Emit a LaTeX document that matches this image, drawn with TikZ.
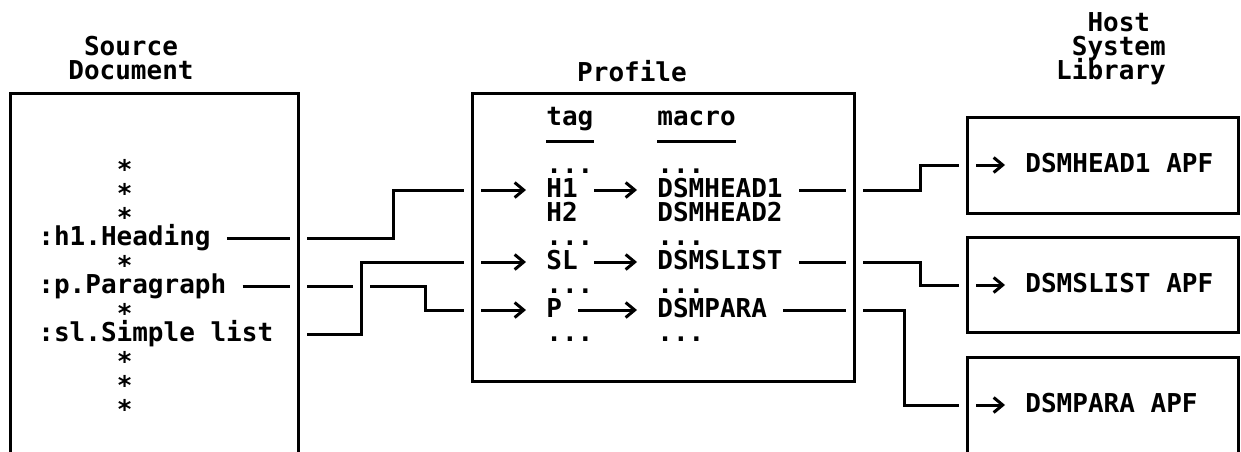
\documentclass[tikz,border=0pt]{standalone}
\usepackage{fontspec}
\setmonofont{DejaVu Sans Mono}
\usetikzlibrary{arrows.meta}
\newcommand\tightlines{\lineskiplimit -20pt\relax}

\begin{document}
\begin{tikzpicture}[x=0.5pt, y=-0.5pt, >={Straight Barb[length=4.5pt,width=7.5pt]},
  txt/.style={anchor=west, inner sep=0pt, text height=0.73em, text depth=0pt,
    font=\fontsize{13}{12}\selectfont\ttfamily\bfseries},
  ttl/.style={inner sep=0pt, font=\fontsize{13}{12}\selectfont\ttfamily\bfseries\tightlines},
  halo/.style={preaction={draw=white, line width=8.5pt}},
  wire/.style={line width=1.5pt},
  arr/.style={wire, ->, shorten >=10pt},
  boxline/.style={line width=1.5pt, halo}]
\useasboundingbox (0,0) rectangle (1241,451);

% frames (drawn at the end, over the wires)
\node[anchor=north west, inner sep=0pt, minimum width=144pt, minimum height=179pt] (src) at (10,93) {};
\node[anchor=north west, inner sep=0pt, minimum width=191pt, minimum height=144pt] (prof) at (472,93) {};
\node[anchor=north west, inner sep=0pt, minimum width=135.5pt, minimum height=48pt] (lib1) at (967,117) {};
\node[anchor=north west, inner sep=0pt, minimum width=135.5pt, minimum height=47.5pt] (lib2) at (967,237) {};
\node[anchor=north west, inner sep=0pt, minimum width=135.5pt, minimum height=47pt] (lib3) at (967,357) {};

% titles
\node[ttl, align=center] (srcttl) at (131,58) {Source\\Document};
\node[ttl] (profttl) at (632,71) {Profile};
\node[ttl, align=left] (libttl) at (1111,49) {\hphantom{Li}Host\\\hphantom{L}System\\Library};

% source document
\foreach \y in {166,190,214,262,310,358,382,406}
  \node[txt] (st\y) at (116.5,\y) {∗};
\node[txt] (hd) at (38,238) {:h1.Heading};
\node[txt] (par) at (38,286) {:p.Paragraph};
\node[txt] (sll) at (38,334) {:sl.Simple list};

% profile
\node[txt] (tag) at (546,118) {tag};
\node[txt] (macro) at (657,118) {macro};
\draw[wire] ([yshift=-11.5pt]tag.west) -- ([yshift=-11.5pt]tag.east);
\draw[wire] ([yshift=-11.5pt]macro.west) -- ([yshift=-11.5pt]macro.east);
\foreach \y in {166,238,286,334} {
  \node[txt] (td\y) at (546,\y) {...};
  \node[txt] (md\y) at (657,\y) {...};
}
\node[txt] (h1t) at (546,190) {H1};
\node[txt] (h2t) at (546,214) {H2};
\node[txt] (slt) at (546,262) {SL};
\node[txt] (pt) at (546,310) {P};
\node[txt] (mh1) at (657,190) {DSMHEAD1};
\node[txt] (mh2) at (657,214) {DSMHEAD2};
\node[txt] (msl) at (657,262) {DSMSLIST};
\node[txt] (mpa) at (657,310) {DSMPARA};

% host system library
\node[txt] (lh1) at (1025,165) {DSMHEAD1 APF};
\node[txt] (lsl) at (1025,285) {DSMSLIST APF};
\node[txt] (lpa) at (1025,405) {DSMPARA APF};

% wires
\draw[arr] ([xshift=8pt]hd.east) -- (393,238) |- (h1t.west);
\draw[arr] ([xshift=8pt]par.east) -- (425,286) |- (pt.west);
\draw[arr, halo] (src.east |- sll.east) -- (361,334) |- (slt.west);
\draw[arr] ([xshift=8pt]h1t.east) -- (mh1.west);
\draw[arr] ([xshift=8pt]slt.east) -- (msl.west);
\draw[arr] ([xshift=8pt]pt.east) -- (mpa.west);
\draw[arr] ([xshift=8pt]mh1.east) -- (920,190) |- (lh1.west);
\draw[arr] ([xshift=8pt]msl.east) -- (920,262) |- (lsl.west);
\draw[arr] ([xshift=8pt]mpa.east) -- (904,310) |- (lpa.west);

\draw[boxline] (src.south west) -- (src.north west) -- (src.north east) -- (src.south east);
\draw[boxline] (prof.south west) rectangle (prof.north east);
\draw[boxline] (lib1.south west) rectangle (lib1.north east);
\draw[boxline] (lib2.south west) rectangle (lib2.north east);
\draw[boxline] (lib3.south west) -- (lib3.north west) -- (lib3.north east) -- (lib3.south east);
\end{tikzpicture}
\end{document}
